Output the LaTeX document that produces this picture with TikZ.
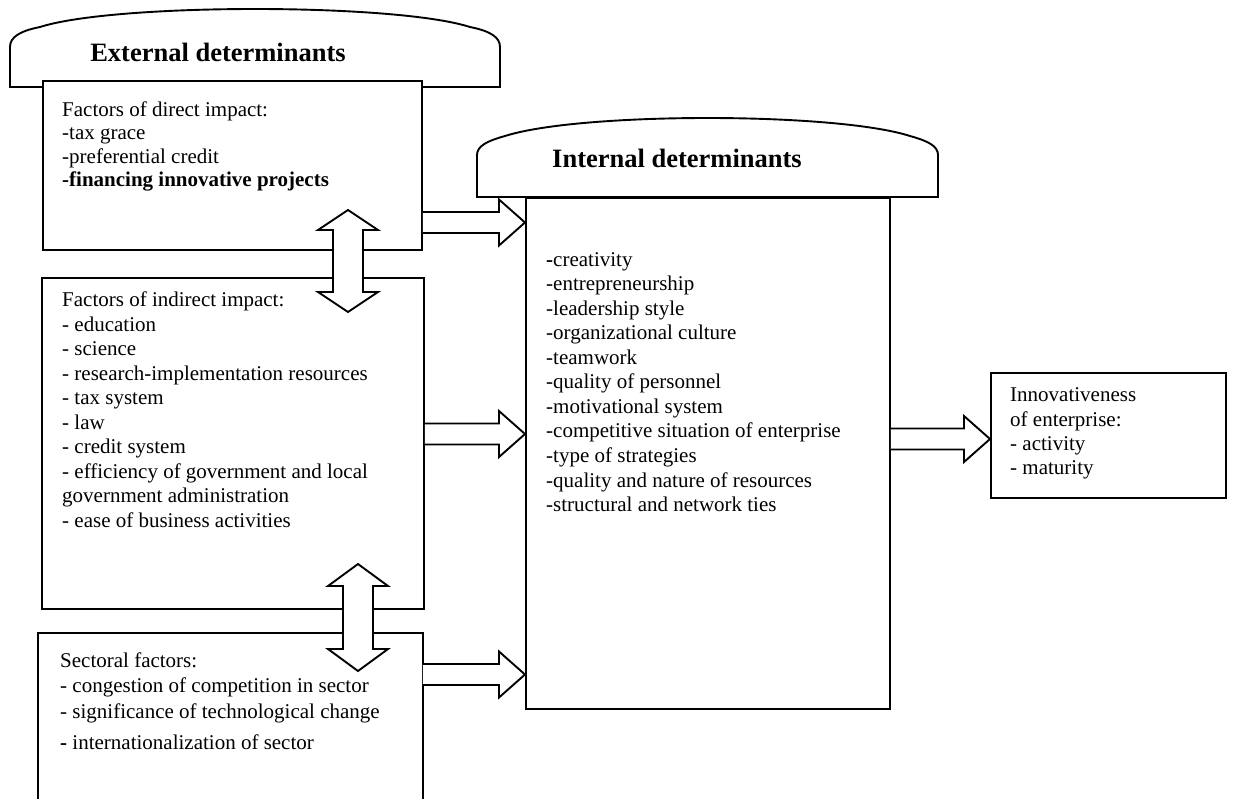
\documentclass[tikz,border=0pt]{standalone}
\usepackage{fontspec}
\setmainfont{Liberation Serif}
\newcommand\harr[3]{% from node, to node, y of axis
  \path (#1.east |- 0,#3) coordinate (hs) (#2.west |- 0,#3) coordinate (he);
  \draw[blk] ([yshift=10.5pt]hs) -- ([xshift=-26pt,yshift=10.5pt]he) -- ([xshift=-26pt,yshift=23pt]he) -- (he)
    -- ([xshift=-26pt,yshift=-23pt]he) -- ([xshift=-26pt,yshift=-10.5pt]he) -- ([yshift=-10.5pt]hs);}
\newcommand\varr[4]{% x, top tip, bottom tip, head length
  \draw[blk] (#1,#2) -- (#1+30,#2+#4) -- (#1+15,#2+#4) -- (#1+15,#3-#4) -- (#1+30,#3-#4) -- (#1,#3)
    -- (#1-30,#3-#4) -- (#1-15,#3-#4) -- (#1-15,#2+#4) -- (#1-30,#2+#4) -- cycle;}
\begin{document}
\begin{tikzpicture}[x=1pt,y=-1pt,
  box/.style={draw, line width=1.9pt, fill=white, inner sep=0pt, anchor=north west},
  txt/.style={align=left, inner sep=0pt, anchor=base west, font=\fontsize{21}{24.5}\selectfont},
  ttl/.style={inner sep=0pt, anchor=base, font=\fontsize{26.5}{30}\selectfont\bfseries},
  banner/.style={draw, line width=1.9pt, fill=white},
  blk/.style={draw, line width=1.9pt, fill=white, line join=miter}]
\useasboundingbox[fill=white] (0,0) rectangle (1241,798);

% external banner
\draw[banner] (10,87) -- (10,47) .. controls (10,37) and (20,31) .. (40,27)
  .. controls (115,3) and (395,3) .. (470,27) .. controls (490,31) and (500,37) .. (500,47) -- (500,87) -- cycle;
\node[ttl] (ext) at (218,61) {External determinants};

% external boxes (text nodes are anchored at the baseline of their last line)
\node[box, minimum width=379, minimum height=169] (dir) at (42,80) {};
\node[txt, font=\fontsize{21}{23.5}\selectfont] (dirt) at (62,186.5) {Factors of direct impact:\\-tax grace\\-preferential credit\\\textbf{-financing innovative projects}};

\node[box, minimum width=382, minimum height=331] (ind) at (41,277) {};
\node[txt] (indt) at (62,527) {Factors of indirect impact:\\- education\\- science\\- research-implementation resources\\- tax system\\- law\\- credit system\\- efficiency of government and local\\government administration\\- ease of business activities};

\node[box, draw=none, minimum width=383, minimum height=165] (sec) at (38,633) {};
\draw[line width=1.9pt] (sec.south west) |- (sec.north east) -- (sec.south east);
\node[txt, font=\fontsize{21}{25.5}\selectfont] (sect) at (60,749) {Sectoral factors:\\- congestion of competition in sector\\- significance of technological change\\[5.5pt]\textbf{-} internationalization of sector};

% internal banner and box
\draw[banner] (477,197) -- (477,155) .. controls (477,146) and (487,141) .. (505,136)
  .. controls (580,112) and (835,112) .. (910,136) .. controls (928,141) and (938,146) .. (938,155) -- (938,197) -- cycle;
\node[ttl] (intl) at (677,167) {Internal determinants};
\node[box, minimum width=364, minimum height=511] (intb) at (525,197) {};
\node[txt, font=\fontsize{21}{24.57}\selectfont] (intt) at (546,511.7) {\textbf{-}creativity\\-entrepreneurship\\-leadership style\\-organizational culture\\-teamwork\\-quality of personnel\\-motivational system\\-competitive situation of enterprise\\-type of strategies\\-quality and nature of resources\\-structural and network ties};

% result box
\node[box, minimum width=235, minimum height=125] (inn) at (990,372) {};
\node[txt, font=\fontsize{21}{24.4}\selectfont] (innt) at (1010,474.9) {Innovativeness\\of enterprise:\\- activity\\- maturity};

% block arrows
\harr{dir}{intb}{222.5}
\harr{ind}{intb}{434}
\harr{sec}{intb}{674.5}
\harr{intb}{inn}{439}
\varr{348}{210}{312}{20}
\varr{358}{564}{671}{22}
\end{tikzpicture}
\end{document}
